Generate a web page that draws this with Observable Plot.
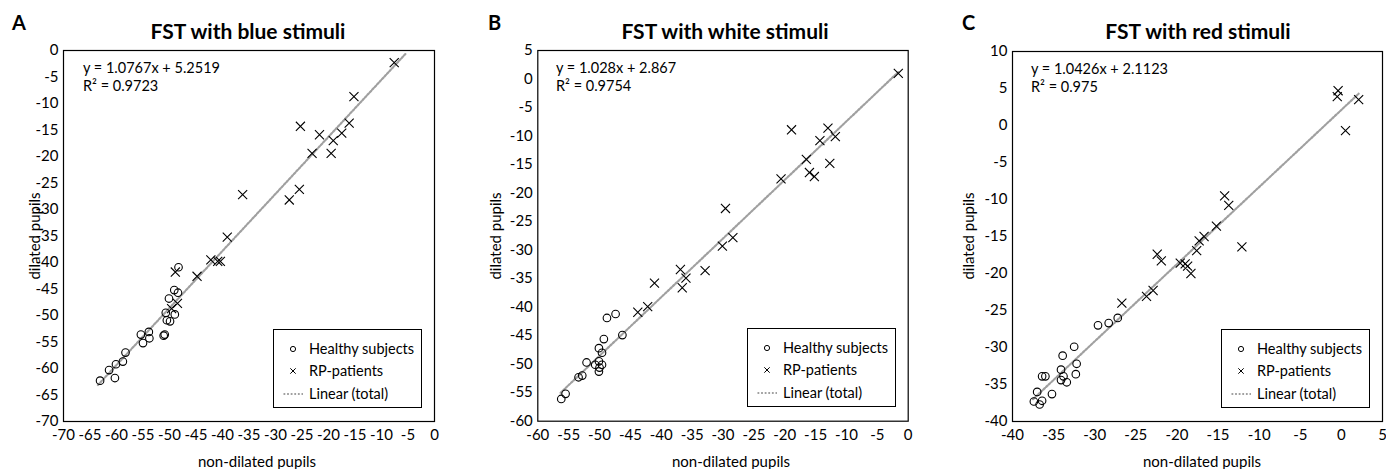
<!DOCTYPE html>
<html><head><meta charset="utf-8">
<script src="https://cdn.jsdelivr.net/npm/d3@7"></script>
<script src="https://cdn.jsdelivr.net/npm/@observablehq/plot@0.6"></script>
<style>
body{margin:0;background:#fff;font-family:Lato,"Open Sans",sans-serif;color:#000}
#wrap{position:relative;width:1386px;height:469px;overflow:hidden;background:#fff}
.panel{position:absolute;top:0;width:462px;height:469px}
.panel svg{position:absolute;left:0;top:0}
.abs{position:absolute;white-space:nowrap;line-height:1}
.letter{font-weight:bold;font-size:20px}
.title{font-weight:bold;font-size:21px;transform:translateX(-50%)}
.eq{font-size:14.5px;line-height:18px}
.ylab{font-size:15px;transform:translate(-50%,-50%) rotate(-90deg)}
.xlab{font-size:15px;transform:translate(-50%,-50%)}
.legend{position:absolute;border:1px solid #000;background:#fff;box-sizing:border-box}
.legend .row{position:absolute;left:0;font-size:14px;line-height:1}
</style></head>
<body><div id="wrap"></div>
<script>
// ---- data ----
const panelLetters = ["A","B","C"];
const panelTitles = ["FST with blue stimuli","FST with white stimuli","FST with red stimuli"];
const equations = ["y = 1.0767x + 5.2519","y = 1.028x + 2.867","y = 1.0426x + 2.1123"];
const rSquared = ["R² = 0.9723","R² = 0.9754","R² = 0.975"];
const slopes = [1.0767, 1.028, 1.0426];
const intercepts = [5.2519, 2.867, 2.1123];
const trendRangeX = [[-63.5,-5.5],[-56.3,-1.6],[-37.5,2.1]];
const xDomains = [[-70,0],[-60,0],[-40,5]];
const yDomains = [[-70,0],[-60,5],[-40,10]];
const xTickLabels = [
  [-70,-65,-60,-55,-50,-45,-40,-35,-30,-25,-20,-15,-10,-5,0],
  [-60,-55,-50,-45,-40,-35,-30,-25,-20,-15,-10,-5,0],
  [-40,-35,-30,-25,-20,-15,-10,-5,0,5]];
const yTickLabels = [
  [-70,-65,-60,-55,-50,-45,-40,-35,-30,-25,-20,-15,-10,-5,0],
  [-60,-55,-50,-45,-40,-35,-30,-25,-20,-15,-10,-5,0,5],
  [-40,-35,-30,-25,-20,-15,-10,-5,0,5,10]];
const legendLabels = ["Healthy subjects","RP-patients","Linear (total)"];
const xAxisTitle = "non-dilated pupils";
const yAxisTitle = "dilated pupils";

const blueHealthyX = [-48.3,-49.1,-48.4,-50.1,-50.7,-49.0,-50.5,-49.9,-50.9,-51.1,-53.9,-55.4,-53.8,-55.0,-58.3,-58.8,-60.1,-61.4,-60.3,-63.1];
const blueHealthyY = [-40.9,-45.2,-45.7,-46.8,-49.5,-49.8,-50.9,-51.1,-53.6,-53.8,-53.1,-53.6,-54.3,-55.2,-57.0,-58.7,-59.2,-60.3,-61.8,-62.3];
const blueRPX = [-7.6,-15.2,-25.3,-21.7,-16.1,-17.5,-19.1,-23.1,-19.5,-25.5,-27.4,-36.2,-39.1,-42.2,-40.9,-40.4,-44.8,-48.9,-48.5,-49.6];
const blueRPY = [-2.3,-8.7,-14.3,-15.9,-13.7,-15.6,-17.0,-19.4,-19.4,-26.2,-28.2,-27.2,-35.2,-39.5,-39.8,-39.8,-42.6,-41.8,-47.7,-48.7];

const whiteHealthyX = [-47.4,-48.8,-46.3,-49.3,-50.1,-49.6,-52.1,-50.7,-50.1,-49.6,-50.0,-50.1,-52.8,-53.4,-55.5,-56.2];
const whiteHealthyY = [-41.2,-41.9,-44.9,-45.6,-47.2,-48.0,-49.7,-50.1,-49.5,-50.1,-50.6,-51.3,-52.0,-52.3,-55.2,-56.1];
const whiteRPX = [-1.6,-18.9,-13.0,-11.8,-14.3,-16.5,-12.7,-16.0,-15.2,-20.6,-29.6,-28.4,-30.1,-36.9,-32.9,-36.0,-36.6,-41.1,-42.2,-43.8];
const whiteRPY = [1.0,-8.9,-8.6,-10.1,-10.8,-14.1,-14.8,-16.4,-17.1,-17.5,-22.7,-27.8,-29.3,-33.4,-33.6,-34.9,-36.6,-35.8,-39.9,-40.9];

const redHealthyX = [-27.2,-28.3,-29.6,-32.5,-33.9,-32.2,-34.1,-32.3,-33.8,-36.4,-36.0,-34.1,-33.4,-35.2,-37.0,-36.4,-37.4,-36.7];
const redHealthyY = [-26.0,-26.7,-27.0,-29.9,-31.1,-32.2,-33.0,-33.6,-33.9,-33.9,-33.9,-34.4,-34.7,-36.3,-36.0,-37.2,-37.3,-37.7];
const redRPX = [-0.4,-0.5,2.1,0.5,-14.2,-13.7,-15.2,-16.7,-17.3,-12.1,-17.6,-22.4,-21.9,-19.6,-19.0,-18.7,-18.3,-22.9,-23.7,-26.7];
const redRPY = [4.7,3.9,3.5,-0.7,-9.5,-10.8,-13.6,-15.0,-15.6,-16.4,-16.9,-17.4,-18.3,-18.6,-18.7,-19.0,-20.0,-22.3,-23.1,-24.0];

const healthyXs = [blueHealthyX, whiteHealthyX, redHealthyX];
const healthyYs = [blueHealthyY, whiteHealthyY, redHealthyY];
const rpXs = [blueRPX, whiteRPX, redRPX];
const rpYs = [blueRPY, whiteRPY, redRPY];

// ---- layout ----
const layout = [
  {left:0,   mL:63,   mR:28,   mT:50, mB:48,   letterX:12, titleX:248, eqX:83,  yLabX:34, xLabX:257, leg:[273,329,149,79]},
  {left:462, mL:75.3, mR:16.3, mT:50, mB:48.3, letterX:26, titleX:263, eqX:94,  yLabX:33, xLabX:269, leg:[285,328,149,79]},
  {left:924, mL:88,   mR:4,    mT:51, mB:48,   letterX:38, titleX:274, eqX:107, yLabX:44, xLabX:278, leg:[297,329,149,79]}
];

const wrap = document.getElementById("wrap");
const trendColor = "#a0a0a0";

for (let i = 0; i < 3; i++) {
  const L = layout[i];
  const panel = document.createElement("div");
  panel.className = "panel";
  panel.style.left = L.left + "px";
  wrap.appendChild(panel);

  const healthy = healthyXs[i].map((x, k) => ({x, y: healthyYs[i][k]}));
  const rp = rpXs[i].map((x, k) => ({x, y: rpYs[i][k]}));
  const trend = trendRangeX[i].map(x => ({x, y: slopes[i] * x + intercepts[i]}));

  const chart = Plot.plot({
    width: 462, height: 469,
    marginLeft: L.mL, marginRight: L.mR, marginTop: L.mT, marginBottom: L.mB,
    style: {fontFamily: "Lato, 'Open Sans', sans-serif", fontSize: "15px", color: "#000", background: "transparent", overflow: "visible"},
    x: {domain: xDomains[i], ticks: xTickLabels[i], tickSize: 0, tickPadding: 8, label: null, tickFormat: d => String(d)},
    y: {domain: yDomains[i], ticks: yTickLabels[i], tickSize: 0, tickPadding: 5, label: null, tickFormat: d => String(d)},
    marks: [
      Plot.frame({stroke: "#000", strokeWidth: 1.2}),
      Plot.line(trend, {x: "x", y: "y", stroke: trendColor, strokeWidth: 2.2, strokeDasharray: "1.8,1.8"}),
      Plot.dot(healthy, {x: "x", y: "y", symbol: "circle", r: 3.8, stroke: "#000", strokeWidth: 1.1, fill: "none"}),
      Plot.dot(rp, {x: "x", y: "y", symbol: "times", r: 4.2, stroke: "#000", strokeWidth: 1.1})
    ]
  });
  panel.appendChild(chart);

  const add = (cls, text, css) => {
    const d = document.createElement("div");
    d.className = "abs " + cls;
    d.textContent = text;
    Object.assign(d.style, css);
    panel.appendChild(d);
    return d;
  };
  add("letter", panelLetters[i], {left: L.letterX + "px", top: "12px"});
  add("title", panelTitles[i], {left: L.titleX + "px", top: "20px"});
  const eq = add("eq", "", {left: L.eqX + "px", top: (L.mT + 9) + "px"});
  eq.innerHTML = equations[i] + "<br>" + rSquared[i];
  add("ylab", yAxisTitle, {left: L.yLabX + "px", top: "236px"});
  add("xlab", xAxisTitle, {left: L.xLabX + "px", top: "461px"});

  // legend
  const [lx, ly, lw, lh] = L.leg;
  const leg = document.createElement("div");
  leg.className = "legend";
  Object.assign(leg.style, {left: lx + "px", top: ly + "px", width: lw + "px", height: lh + "px"});
  const rowsY = [18.5, 40.5, 63.5];
  const icons = [
    '<circle cx="19" cy="9" r="2.6" fill="none" stroke="#000" stroke-width="1"/>',
    '<path d="M16.3,6.3L21.7,11.7M21.7,6.3L16.3,11.7" stroke="#000" stroke-width="1"/>',
    '<line x1="9.5" y1="9" x2="29" y2="9" stroke="' + trendColor + '" stroke-width="2" stroke-dasharray="1.8,1.8"/>'
  ];
  for (let r = 0; r < 3; r++) {
    const row = document.createElement("div");
    row.className = "row";
    row.style.top = (rowsY[r] - 9) + "px";
    row.innerHTML = '<svg width="34" height="18" style="position:absolute;left:0;top:0">' + icons[r] + '</svg>' +
      '<span style="position:absolute;left:35px;top:2px;white-space:nowrap;font-size:14.5px">' + legendLabels[r] + '</span>';
    leg.appendChild(row);
  }
  panel.appendChild(leg);
}
</script></body></html>
